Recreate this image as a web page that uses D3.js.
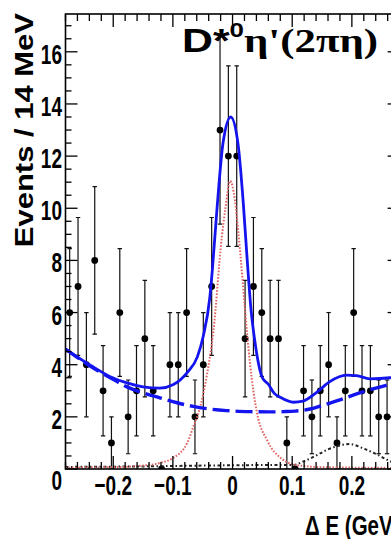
<!DOCTYPE html>
<html>
<head>
<meta charset="utf-8">
<script src="https://cdn.jsdelivr.net/npm/d3@7"></script>
<style>
  body { margin: 0; background: #fff; }
  svg { display: block; }
</style>
</head>
<body>
<div id="chart"></div>
<script>
// bin centres (GeV), 14 MeV bins
var binCenters = [-0.273, -0.259, -0.245, -0.231, -0.217, -0.203, -0.189, -0.175, -0.161, -0.147,
                  -0.133, -0.119, -0.105, -0.091, -0.077, -0.063, -0.049, -0.035, -0.021, -0.007,
                   0.007,  0.021,  0.035,  0.049,  0.063,  0.077,  0.091,  0.105,  0.119,  0.133,
                   0.147,  0.161,  0.175,  0.189,  0.203,  0.217,  0.231,  0.245,  0.259];
var counts = [6, 7, 4, 8, 3, 1, 6, 2, 3, 5,
              3, 0, 4, 4, 6, 2, 4, 7, 13, 12,
              12, 5, 7, 6, 5, 5, 1, 0, 3, 2,
              3, 4, 1, 3, 6, 3, 3, 2, 2];

// fit curves: [deltaE, events]
var fitTotal = [[-0.28, 4.6], [-0.234, 3.92], [-0.205, 3.54], [-0.177, 3.3], [-0.15, 3.15], [-0.122, 3.1],
                [-0.1, 3.23], [-0.076, 3.7], [-0.059, 4.3], [-0.049, 5.1], [-0.038, 6.6], [-0.034, 7.6],
                [-0.026, 10.0], [-0.016, 12.5], [-0.003, 13.5], [0.009, 12.5], [0.018, 10.2], [0.024, 8.2],
                [0.031, 6.1], [0.038, 4.8], [0.05, 3.5], [0.06, 3.25], [0.07, 2.9], [0.08, 2.75], [0.102, 2.56],
                [0.118, 2.6], [0.142, 2.96], [0.163, 3.35], [0.191, 3.6], [0.208, 3.58], [0.23, 3.46],
                [0.264, 3.5], [0.28, 3.55]];
var fitBkg = [[-0.28, 4.6], [-0.234, 3.88], [-0.205, 3.5], [-0.177, 3.15], [-0.15, 2.92], [-0.122, 2.73],
              [-0.093, 2.54], [-0.066, 2.4], [-0.038, 2.3], [-0.01, 2.24], [0.03, 2.2], [0.06, 2.19],
              [0.085, 2.2], [0.105, 2.22], [0.13, 2.3], [0.152, 2.45], [0.18, 2.65], [0.208, 2.88],
              [0.24, 3.1], [0.264, 3.25], [0.28, 3.35]];
var fitSignal = [[-0.28, 0.05], [-0.2, 0.07], [-0.15, 0.13], [-0.122, 0.23], [-0.1, 0.42], [-0.076, 1.0],
                 [-0.066, 1.6], [-0.054, 2.4], [-0.043, 3.6], [-0.032, 5.3], [-0.018, 8.9], [-0.012, 10.0],
                 [-0.004, 11.05], [0.004, 10.3], [0.01, 9.0], [0.024, 5.3], [0.029, 4.1], [0.041, 2.15],
                 [0.058, 1.1], [0.085, 0.35], [0.108, 0.15], [0.15, 0.07], [0.28, 0.04]];
var fitOther = [[-0.28, 0.08], [-0.15, 0.1], [-0.05, 0.13], [0.05, 0.15], [0.1, 0.15], [0.12, 0.3],
                [0.142, 0.54], [0.16, 0.75], [0.176, 0.88], [0.196, 0.96], [0.218, 0.8], [0.24, 0.58],
                [0.264, 0.3], [0.28, 0.15]];

var xTicks = [-0.2, -0.1, 0, 0.1, 0.2];
var xTickLabels = ["\u22120.2", "\u22120.1", "0", "0.1", "0.2"];
var yTicks = [0, 2, 4, 6, 8, 10, 12, 14, 16];

var W = 391, H = 539;
var plotL = 65.5, plotR = 399.6, plotT = 14, plotB = 469;

var svg = d3.select("#chart").append("svg")
    .attr("width", W)
    .attr("height", H);

var x = d3.scaleLinear().domain([-0.28, 0.28]).range([plotL, plotR]);
var y = d3.scaleLinear().domain([0, 17.45]).range([plotB, plotT]);

svg.append("clipPath").attr("id", "plotclip")
    .append("rect")
    .attr("x", plotL).attr("y", plotT)
    .attr("width", plotR - plotL).attr("height", plotB - plotT);

// data points with error bars
var pts = binCenters.map(function (c, i) { return { x: c, n: counts[i] }; });
var nonzero = pts.filter(function (d) { return d.n > 0; });
var data = svg.append("g").attr("clip-path", "url(#plotclip)");

function errHi(d) { return y(d.n + Math.sqrt(d.n)); }
function errLo(d) { return y(Math.max(0, d.n - Math.sqrt(d.n))); }

data.selectAll("line.err")
    .data(nonzero)
    .enter().append("line")
    .attr("class", "err")
    .attr("x1", function (d) { return x(d.x); })
    .attr("x2", function (d) { return x(d.x); })
    .attr("y1", errHi)
    .attr("y2", errLo)
    .attr("stroke", "#111").attr("stroke-width", 1.2);

[errHi, errLo].forEach(function (f, k) {
    data.selectAll("line.cap" + k)
        .data(nonzero)
        .enter().append("line")
        .attr("class", "cap" + k)
        .attr("x1", function (d) { return x(d.x) - 2.2; })
        .attr("x2", function (d) { return x(d.x) + 2.2; })
        .attr("y1", f)
        .attr("y2", f)
        .attr("stroke", "#111").attr("stroke-width", 1.2);
});

data.selectAll("circle")
    .data(pts)
    .enter().append("circle")
    .attr("cx", function (d) { return x(d.x); })
    .attr("cy", function (d) { return y(d.n); })
    .attr("r", 3.4)
    .attr("fill", "#000");

// fit curves
var line = d3.line()
    .x(function (d) { return x(d[0]); })
    .y(function (d) { return y(d[1]); })
    .curve(d3.curveMonotoneX);

var curves = svg.append("g").attr("clip-path", "url(#plotclip)").attr("fill", "none");

curves.append("path").datum(fitOther)
    .attr("d", line)
    .attr("stroke", "#222").attr("stroke-width", 2)
    .attr("stroke-dasharray", "3,2.5,1.5,2.5");

curves.append("path").datum(fitSignal)
    .attr("d", line)
    .attr("stroke", "#e06464").attr("stroke-width", 2)
    .attr("stroke-dasharray", "1.6,1.6");

curves.append("path").datum(fitBkg)
    .attr("d", line)
    .attr("stroke", "#1414ee").attr("stroke-width", 3.4)
    .attr("stroke-dasharray", "17,6");

curves.append("path").datum(fitTotal)
    .attr("d", line)
    .attr("stroke", "#1414ee").attr("stroke-width", 2.8);

// frame and ticks
function isMajorX(v) {
    return xTicks.some(function (t) { return Math.abs(t - v) < 1e-6; });
}
var xMinor = d3.range(-0.28, 0.2801, 0.02);
var yMinor = d3.range(0, 17.45, 0.5);

var axes = svg.append("g").attr("stroke", "#000").attr("stroke-width", 1.3);
axes.append("rect")
    .attr("x", plotL).attr("y", plotT)
    .attr("width", plotR - plotL).attr("height", plotB - plotT)
    .attr("fill", "none").attr("stroke-width", 1.6);

axes.selectAll("line.xb")
    .data(xMinor)
    .enter().append("line")
    .attr("class", "xb")
    .attr("x1", function (d) { return x(d); }).attr("x2", function (d) { return x(d); })
    .attr("y1", plotB)
    .attr("y2", function (d) { return plotB - (isMajorX(d) ? 13 : 7); });
axes.selectAll("line.xt")
    .data(xMinor)
    .enter().append("line")
    .attr("class", "xt")
    .attr("x1", function (d) { return x(d); }).attr("x2", function (d) { return x(d); })
    .attr("y1", plotT)
    .attr("y2", function (d) { return plotT + (isMajorX(d) ? 13 : 7); });
axes.selectAll("line.yl")
    .data(yMinor)
    .enter().append("line")
    .attr("class", "yl")
    .attr("y1", function (d) { return y(d); }).attr("y2", function (d) { return y(d); })
    .attr("x1", plotL)
    .attr("x2", function (d) { return plotL + (d % 2 == 0 ? 12 : 6); });
axes.selectAll("line.yr")
    .data(yMinor)
    .enter().append("line")
    .attr("class", "yr")
    .attr("y1", function (d) { return y(d); }).attr("y2", function (d) { return y(d); })
    .attr("x1", plotR)
    .attr("x2", function (d) { return plotR - (d % 2 == 0 ? 12 : 6); });

// tick labels (narrow bold font)
var font = "'Liberation Sans', Arial, Helvetica, sans-serif";
svg.selectAll("g.xlab")
    .data(xTicks)
    .enter().append("g")
    .attr("class", "xlab")
    .attr("transform", function (d) { return "translate(" + x(d) + ",495) scale(0.68,1)"; })
    .append("text")
    .attr("text-anchor", "middle")
    .attr("font-family", font).attr("font-weight", "bold").attr("font-size", 28)
    .text(function (d, i) { return xTickLabels[i]; });

svg.selectAll("g.ylab")
    .data(yTicks)
    .enter().append("g")
    .attr("class", "ylab")
    .attr("transform", function (d) { return "translate(62," + (d == 0 ? 490 : y(d) + 12) + ") scale(0.68,1)"; })
    .append("text")
    .attr("text-anchor", "end")
    .attr("font-family", font).attr("font-weight", "bold").attr("font-size", 28)
    .text(function (d) { return d; });

// axis titles
svg.append("g")
    .attr("transform", "translate(33,13) scale(0.82,1) rotate(-90)")
    .append("text")
    .attr("text-anchor", "end")
    .attr("font-family", font).attr("font-weight", "bold").attr("font-size", 31)
    .text("Events / 14 MeV");

// the reference crop cuts this title at the right edge
svg.append("g")
    .attr("transform", "translate(305,535) scale(0.76,1)")
    .append("text")
    .attr("font-family", font).attr("font-weight", "bold").attr("font-size", 27)
    .text("\u0394 E (GeV)");

// decay mode label
var title = svg.append("text")
    .attr("x", 182).attr("y", 52)
    .attr("font-weight", "bold").attr("font-size", 33)
    .attr("textLength", 196).attr("lengthAdjust", "spacingAndGlyphs");
title.append("tspan").attr("font-family", font).text("D*");
title.append("tspan").attr("font-family", font).attr("font-size", 20).attr("dy", -15).text("0");
title.append("tspan").attr("font-family", "'Liberation Serif', 'Times New Roman', serif").attr("dy", 15).text("\u03B7'(2\u03C0\u03B7)");
</script>
</body>
</html>
